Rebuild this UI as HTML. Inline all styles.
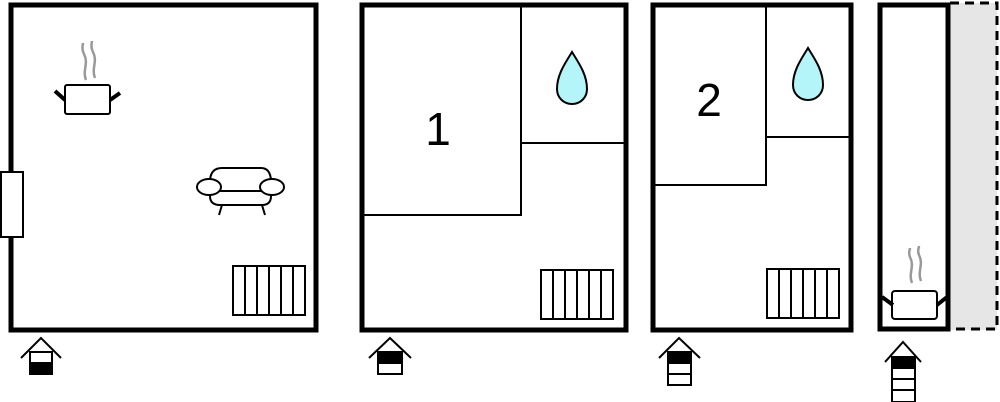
<!DOCTYPE html>
<html><head><style>html,body{margin:0;padding:0;background:#fff;}svg{display:block}</style></head>
<body>
<svg width="1000" height="402" viewBox="0 0 1000 402" xmlns="http://www.w3.org/2000/svg" font-family="Liberation Sans, sans-serif">
<defs>
<g id="rad"><rect x="0" y="0" width="72" height="49" fill="#fff" stroke="#000" stroke-width="2"/>
<path d="M12 0V49M24 0V49M36 0V49M48 0V49M60 0V49" stroke="#000" stroke-width="2"/></g>
<g id="drop"><path d="M0 0 C6 10 15 22 15 37 C15 46 8 52 0 52 C-8 52 -15 46 -15 37 C-15 22 -6 10 0 0Z" fill="#b3f5f8" stroke="#000" stroke-width="2"/></g>
</defs>
<!-- frame 1 -->
<rect x="11" y="5" width="305" height="325" fill="#fff" stroke="#000" stroke-width="5"/>
<rect x="1" y="172" width="22" height="65" fill="#fff" stroke="#000" stroke-width="2"/>
<!-- pot 1 -->
<path d="M86 80 C82 70 89 64 84 54 C81 48 83 45 83 43 M95 78 C91 68 98 62 93 52 C90 46 92 43 92 41" stroke="#999" stroke-width="2.5" fill="none"/>
<rect x="65" y="85" width="45" height="29" rx="2" fill="#fff" stroke="#000" stroke-width="2"/>
<path d="M55 91 L65 100 M120 93 L110 100" stroke="#000" stroke-width="4"/>
<!-- sofa -->
<g fill="#fff" stroke="#000" stroke-width="2">
<path d="M222 168 H261 Q270 168 271 180 V196 Q271 205 262 205 H220 Q210 205 210 196 V180 Q211 168 222 168Z"/>
<line x1="215" y1="191" x2="267" y2="191"/>
<ellipse cx="209" cy="187" rx="12" ry="8"/>
<ellipse cx="272" cy="187" rx="12" ry="8"/>
<path d="M222 205 L219 215 M262 205 L265 215"/>
</g>
<use href="#rad" x="233" y="266"/>
<!-- frame 2 -->
<rect x="362" y="5" width="264" height="325" fill="#fff" stroke="#000" stroke-width="5"/>
<path d="M521 5 V215 H362 M521 143 H626" stroke="#000" stroke-width="2" fill="none"/>
<text x="438" y="145" font-size="46" text-anchor="middle">1</text>
<use href="#drop" x="572" y="52"/>
<use href="#rad" x="541" y="270"/>
<!-- frame 3 -->
<rect x="653" y="5" width="198" height="325" fill="#fff" stroke="#000" stroke-width="5"/>
<path d="M766 5 V185 H653 M766 137 H851" stroke="#000" stroke-width="2" fill="none"/>
<text x="709" y="116" font-size="46" text-anchor="middle">2</text>
<use href="#drop" x="808" y="48"/>
<use href="#rad" x="767" y="269"/>
<!-- frame 4 -->
<rect x="950" y="3" width="47" height="327" fill="#e6e6e6"/>
<path d="M950 3 H997 V329 H950" fill="none" stroke="#000" stroke-width="3" stroke-dasharray="9 6"/>
<rect x="880" y="5" width="68" height="324" fill="#fff" stroke="#000" stroke-width="5"/>
<path d="M912 283 C908 273 915 267 910 257 C908 252 910 250 910 248 M921 281 C917 271 924 265 919 255 C917 250 919 248 919 246" stroke="#999" stroke-width="2.5" fill="none"/>
<rect x="892" y="291" width="45" height="28" rx="3" fill="#fff" stroke="#000" stroke-width="2"/>
<path d="M882 297 L893 305 M947 297 L937 305" stroke="#000" stroke-width="4"/>
<!-- level icons -->
<g stroke="#000" stroke-width="2" fill="#fff">
<path d="M21 358 L41 338 L61 358" fill="none"/>
<rect x="30" y="352" width="22" height="22"/><rect x="30" y="363" width="22" height="11" fill="#000"/>
<path d="M369 358 L390 338 L411 358" fill="none"/>
<rect x="378" y="352" width="24" height="22"/><rect x="378" y="352" width="24" height="11" fill="#000"/>
<path d="M659 358 L679 338 L700 358" fill="none"/>
<rect x="668" y="352" width="23" height="33"/><rect x="668" y="352" width="23" height="11" fill="#000"/><line x1="668" y1="374" x2="691" y2="374"/>
<path d="M885 362 L903 342 L921 362" fill="none"/>
<rect x="892" y="357" width="23" height="45"/><rect x="892" y="357" width="23" height="11" fill="#000"/>
<path d="M892 379 H915 M892 390 H915"/>
</g>
</svg>
</body></html>
